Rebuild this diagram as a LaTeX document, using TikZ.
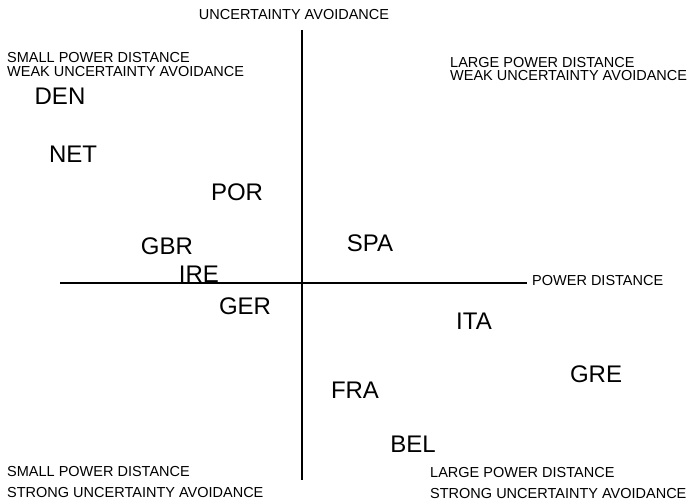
\documentclass[tikz,border=0pt]{standalone}
\usepackage{fontspec}
\setmainfont{Liberation Sans}
\usetikzlibrary{positioning}
\tikzset{
    country/.style={font=\fontsize{24}{24}\selectfont, inner sep=0pt},
    quadrant/.style={font=\fontsize{14.5}{15}\selectfont, inner sep=0pt, anchor=west},
    axislabel/.style={font=\fontsize{14.5}{15}\selectfont, inner sep=0pt}
}

\begin{document}
\begin{tikzpicture}[x=1pt, y=-1pt]
    \useasboundingbox (0, 0) rectangle (695, 503);
    \coordinate (vtop) at (302, 30);
    \coordinate (vbot) at (302, 480);
    \coordinate (hleft) at (60, 283);
    \coordinate (hright) at (527, 283);
    \draw[line width=1.4pt]
    (vtop) -- (vbot)
    (hleft) -- (hright);

    \node[axislabel] (ua) at (294, 15) {UNCERTAINTY AVOIDANCE};
    \node[axislabel, anchor=west] (pd) at (532, 281) {POWER DISTANCE};

    \node[quadrant] (tl1) at (7, 58) {SMALL POWER DISTANCE};
    \node[quadrant] (tl2) at (7, 71.5) {WEAK UNCERTAINTY AVOIDANCE};
    \node[quadrant] (tr1) at (450, 62.5) {LARGE POWER DISTANCE};
    \node[quadrant] (tr2) at (450, 76) {WEAK UNCERTAINTY AVOIDANCE};
    \node[quadrant] (bl1) at (7, 472) {SMALL POWER DISTANCE};
    \node[quadrant] (bl2) at (7, 492.5) {STRONG UNCERTAINTY AVOIDANCE};
    \node[quadrant] (br1) at (430, 473) {LARGE POWER DISTANCE};
    \node[quadrant] (br2) at (430, 493.5) {STRONG UNCERTAINTY AVOIDANCE};

    \node[country] (den) at (60, 96) {DEN};
    \node[country] (net) at (73, 154) {NET};
    \node[country] (por) at (237, 192) {POR};
    \node[country] (gbr) at (167, 246) {GBR};
    \node[country] (ire) at (199, 274) {IRE};
    \node[country] (ger) at (245, 306) {GER};
    \node[country] (spa) at (370, 243) {SPA};
    \node[country] (ita) at (474, 321) {ITA};
    \node[country] (fra) at (355, 390) {FRA};
    \node[country] (gre) at (596, 374) {GRE};
    \node[country] (bel) at (413, 444) {BEL};
\end{tikzpicture}
\end{document}
